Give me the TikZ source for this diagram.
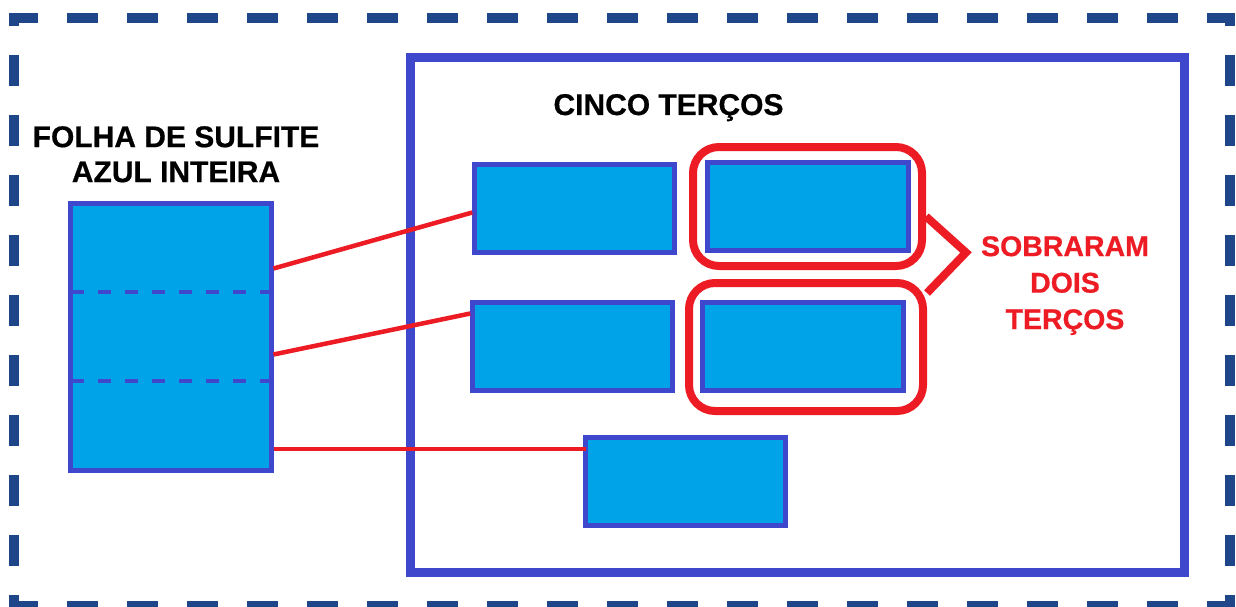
\documentclass[tikz,border=0pt]{standalone}
\usepackage{fontspec}
\setmainfont{Liberation Sans}[BoldFeatures={FakeBold=0.6}]
\definecolor{frameblue}{RGB}{30,70,136}
\definecolor{boardblue}{RGB}{63,72,204}
\definecolor{paper}{RGB}{0,162,232}
\definecolor{linkred}{RGB}{237,28,36}
\begin{document}
\begin{tikzpicture}[x=1pt,y=-1pt,
  dashframe/.style={draw=frameblue, line width=10pt, dash pattern=on 31pt off 29pt},
  board/.style={draw=boardblue, line width=9pt, minimum width=774pt, minimum height=514.5pt, inner sep=0pt},
  sheetbox/.style={draw=boardblue, fill=paper, line width=5pt, minimum width=201pt, minimum height=267pt, inner sep=0pt},
  piece/.style={draw=boardblue, fill=paper, line width=4.5pt, minimum width=200pt, minimum height=88pt, inner sep=0pt},
  fold/.style={draw=boardblue, line width=4pt, dash pattern=on 13pt off 14pt, dash phase=-3pt},
  link/.style={draw=linkred, line width=4.5pt},
  ring/.style={draw=linkred, line width=8pt, rounded corners=26pt, inner sep=0pt},
  bracket/.style={draw=linkred, line width=8pt, line join=miter},
  caption/.style={inner sep=0pt, align=center, font=\bfseries\fontsize{30pt}{35pt}\selectfont},
  redcaption/.style={inner sep=0pt, align=center, text=linkred, font=\bfseries\fontsize{28.5pt}{36.5pt}\selectfont}
]
\useasboundingbox (0,0) rectangle (1236,607);

% dashed outer frame, one side at a time
\draw[dashframe, dash phase=2pt]  (9,18)    -- (1235,18);
\draw[dashframe, dash phase=2pt]  (9,606)   -- (1235,606);
\draw[dashframe, dash phase=18pt] (14,13)   -- (14,611);
\draw[dashframe, dash phase=18pt] (1230,13) -- (1230,611);

% board holding the five thirds
\node[board] (board) at (797,315.25) {};

% whole sheet with its two fold lines
\node[sheetbox] (sheet) at (170.5,336.5) {};
\draw[fold] ([yshift=44.5pt]sheet.west)  -- ([yshift=44.5pt]sheet.east);
\draw[fold] ([yshift=-44.5pt]sheet.west) -- ([yshift=-44.5pt]sheet.east);

% the five thirds
\node[piece] (tA) at (574.5,208.5) {};
\node[piece, minimum width=201pt] (tB) at (808,206.5) {};
\node[piece] (tC) at (572.5,346.5) {};
\node[piece, minimum width=201pt] (tD) at (803,346.5) {};
\node[piece] (tE) at (685.5,481.5) {};

% rings around the two leftover thirds
\node[ring, minimum width=229pt, minimum height=119pt] (rUp)  at (807.5,206.5) {};
\node[ring, minimum width=234pt, minimum height=128pt] (rLow) at (806,347) {};

% labels
\node[caption, anchor=base] (cinco) at (668.5,115) {CINCO TERÇOS};
\node[caption, anchor=north] (folha) at (176,126) {FOLHA DE SULFITE\\AZUL INTEIRA};
\node[redcaption, anchor=north] (sobra) at (1065,236) {SOBRARAM\\DOIS\\TERÇOS};

% bracket pointing to the leftover label
\coordinate (tip) at (966,252.5);
\draw[bracket] ([yshift=-10pt]rUp.east) -- (tip) -- ([yshift=-14pt]rLow.north east);

% connectors from the sheet to the thirds
\draw[link] ([yshift=68pt]sheet.east)     -- ([yshift=-4pt]tA.west);
\draw[link] ([yshift=-18pt]sheet.east)    -- ([yshift=33pt]tC.west);
\draw[link] ([yshift=-112.5pt]sheet.east) -- ([yshift=32.5pt,xshift=2.5pt]tE.west);
\end{tikzpicture}
\end{document}
